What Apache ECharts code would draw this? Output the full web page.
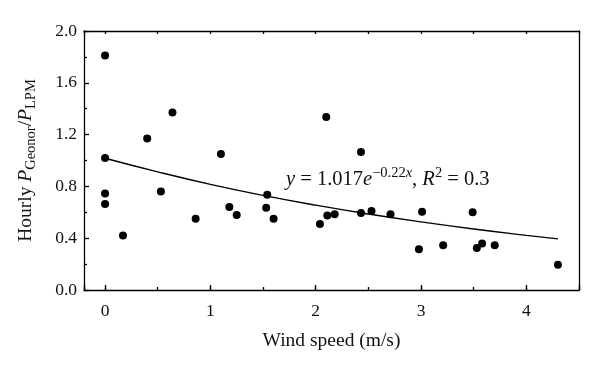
<!DOCTYPE html>
<html>
<head>
<meta charset="utf-8">
<script src="https://cdn.jsdelivr.net/npm/echarts@6/dist/echarts.min.js"></script>
<style>html,body{margin:0;padding:0;background:#fff}#c{width:600px;height:373px}</style>
</head>
<body>
<div id="c"></div>
<script>
const windSpeed = [0, 0, 0, 0, 0.17, 0.40, 0.53, 0.64, 0.86, 1.10, 1.18, 1.25, 1.54, 1.53, 1.60, 2.04, 2.10, 2.11, 2.18, 2.43, 2.43, 2.53, 2.71, 2.98, 3.01, 3.21, 3.49, 3.53, 3.58, 3.70, 4.30];
const ratio     = [1.81, 1.02, 0.745, 0.665, 0.42, 1.17, 0.76, 1.37, 0.55, 1.05, 0.64, 0.58, 0.735, 0.635, 0.55, 0.51, 1.335, 0.575, 0.585, 1.065, 0.595, 0.61, 0.585, 0.315, 0.605, 0.345, 0.60, 0.325, 0.36, 0.345, 0.195];
// Fitted curve as drawn (y = 1.017 e^{-0.22x})
const fitX = [0, 0.5, 1, 1.5, 2, 2.5, 3, 3.5, 4, 4.3];
const fitY = [1.017, 0.912, 0.816, 0.731, 0.655, 0.587, 0.526, 0.471, 0.422, 0.395];
// Axis settings
const xMin = -0.2, xMax = 4.5;
const yMin = 0, yMax = 2.0, yStep = 0.4;

const FONT = '"Liberation Serif", "DejaVu Serif", serif';
const TXT = '#111';
const chart = echarts.init(document.getElementById('c'), null, {renderer: 'canvas'});

const scatterData = windSpeed.map((x, i) => [x, ratio[i]]);
const fitData = fitX.map((x, i) => [x, fitY[i]]);

const lineStyle = {color: '#000', width: 1.3};

chart.setOption({
  animation: false,
  backgroundColor: '#fff',
  grid: {left: 84, right: 21, top: 31, bottom: 83, containLabel: false},
  xAxis: [
    {
      type: 'value', min: xMin, max: xMax, splitNumber: 5, position: 'bottom',
      axisLine: {show: true, onZero: false, lineStyle: lineStyle},
      axisTick: {show: true, inside: true, length: 5, lineStyle: lineStyle},
      axisLabel: {show: true, margin: 12, fontFamily: FONT, fontSize: 17.5, color: TXT,
        formatter: v => (Math.abs(v - Math.round(v)) < 1e-9 ? String(Math.round(v)) : '')},
      splitLine: {show: false},
      name: 'Wind speed (m/s)', nameLocation: 'middle', nameGap: 41,
      nameTextStyle: {fontFamily: FONT, fontSize: 19.5, color: TXT}
    },
    {
      type: 'value', min: xMin, max: xMax, splitNumber: 10, position: 'bottom',
      axisLine: {show: false, onZero: false},
      axisTick: {show: true, inside: true, length: 3, lineStyle: lineStyle},
      axisLabel: {show: false}, splitLine: {show: false}
    },
    {
      type: 'value', min: xMin, max: xMax, splitNumber: 10, position: 'top',
      axisLine: {show: true, onZero: false, lineStyle: lineStyle},
      axisTick: {show: true, inside: true, length: 3, lineStyle: lineStyle},
      axisLabel: {show: false}, splitLine: {show: false}
    }
  ],
  yAxis: [
    {
      type: 'value', min: yMin, max: yMax, interval: yStep, position: 'left',
      axisLine: {show: true, onZero: false, lineStyle: lineStyle},
      axisTick: {show: true, inside: true, length: 5, lineStyle: lineStyle},
      minorTick: {show: true, splitNumber: 2, length: 3, lineStyle: lineStyle},
      axisLabel: {show: true, margin: 7, fontFamily: FONT, fontSize: 17.5, color: TXT,
        formatter: v => v.toFixed(1)},
      splitLine: {show: false},
      name: '{n|Hourly }{i|P}{s|Geonor}{n|/}{i|P}{s|LPM}',
      nameLocation: 'middle', nameGap: 45, nameRotate: 90,
      nameTextStyle: {
        fontFamily: FONT, fontSize: 19.5, color: TXT,
        rich: {
          n: {fontFamily: FONT, fontSize: 19.5, color: TXT, lineHeight: 26},
          i: {fontFamily: FONT, fontSize: 19.5, fontStyle: 'italic', color: TXT, lineHeight: 26},
          s: {fontFamily: FONT, fontSize: 14.5, color: TXT, lineHeight: 15, verticalAlign: 'bottom'}
        }
      }
    },
    {
      type: 'value', min: yMin, max: yMax, interval: yStep, position: 'right',
      axisLine: {show: true, onZero: false, lineStyle: lineStyle},
      axisTick: {show: false}, axisLabel: {show: false}, splitLine: {show: false}
    }
  ],
  series: [
    {
      type: 'line', xAxisIndex: 0, yAxisIndex: 0, data: fitData, smooth: true,
      showSymbol: false, symbol: 'none', lineStyle: {color: '#000', width: 1.4}, z: 2
    },
    {
      type: 'scatter', xAxisIndex: 0, yAxisIndex: 0, data: scatterData,
      symbol: 'circle', symbolSize: 8, itemStyle: {color: '#000', opacity: 1}, z: 3
    }
  ],
  graphic: [
    {
      type: 'text', left: 286, top: 166, z: 10,
      style: {
        text: '{i|y}{n| = 1.017}{i|e}{sup|−0.22}{supi|x}{n|, }{i|R}{sup|2}{n| = 0.3}',
        fontFamily: FONT,
        rich: {
          n: {fontFamily: FONT, fontSize: 20.5, fill: TXT, lineHeight: 28},
          i: {fontFamily: FONT, fontSize: 20.5, fontStyle: 'italic', fill: TXT, lineHeight: 28},
          sup: {fontFamily: FONT, fontSize: 14.5, fill: TXT, lineHeight: 14, verticalAlign: 'top'},
          supi: {fontFamily: FONT, fontSize: 14.5, fontStyle: 'italic', fill: TXT, lineHeight: 14, verticalAlign: 'top'}
        }
      }
    }
  ]
});
</script>
</body>
</html>
